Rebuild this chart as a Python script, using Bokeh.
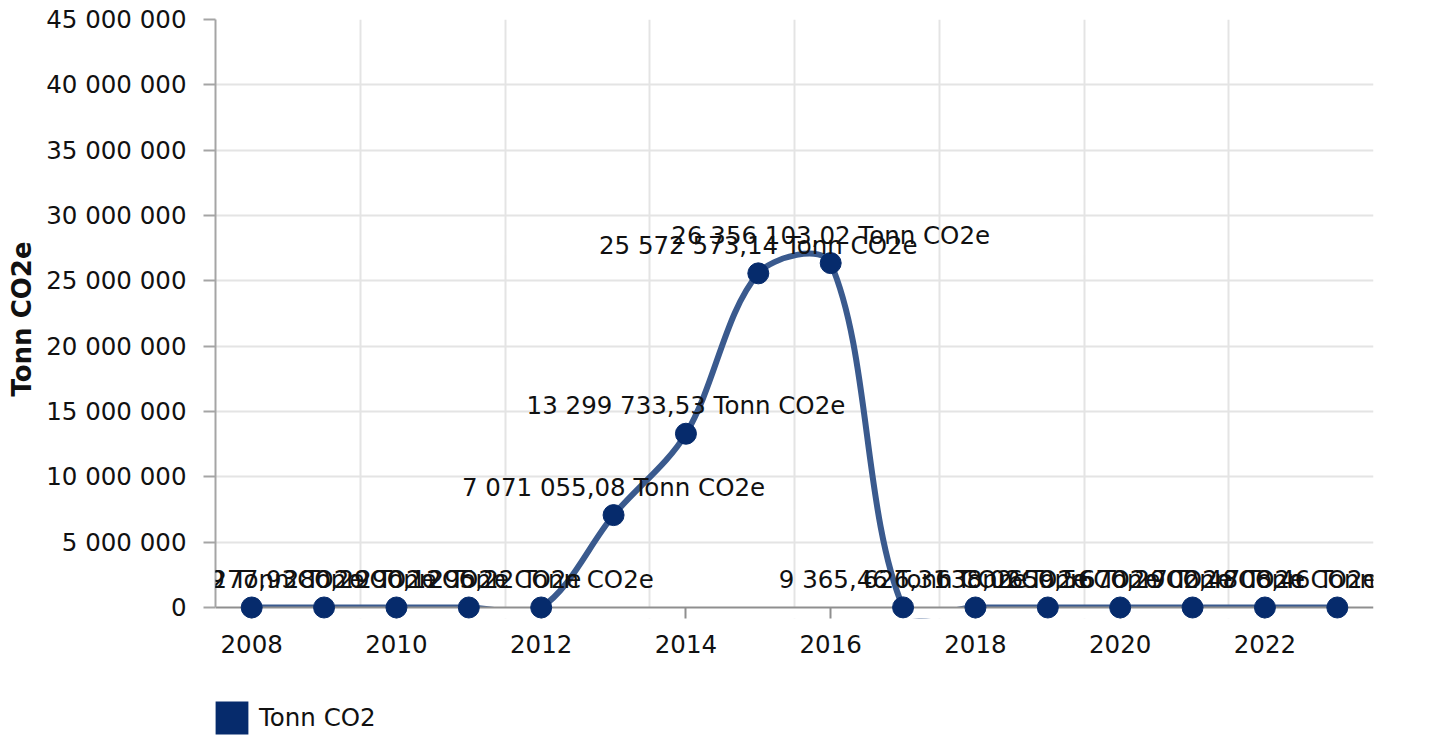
import numpy as np
from bokeh.plotting import figure
from bokeh.layouts import column
from bokeh.models import (ColumnDataSource, Range1d, FixedTicker, Legend, LegendItem,
                          Label, BoxAnnotation, Span)
from bokeh.embed import file_html
from bokeh.resources import INLINE

# ---- data ----
years = list(range(2008, 2024))
tonn = [273.99, 277.93, 280.29, 290.12, 295.22, 7071055.08, 13299733.53,
        25572573.14, 26356103.02, 9365.46, 626.31, 638.02, 659.56, 670.29,
        702.48, 708.46]
series_name = "Tonn CO2"
unit = "Tonn CO2e"
y_ticks = list(range(0, 45000001, 5000000))
x_tick_years = years[::2]

# ---- styles ----
FONT = "DejaVu Sans"
FS = "24.5px"
TXT = "#111111"
LINE_COLOR = "#3a5a8e"
MARK_COLOR = "#062b6c"
GRID_COLOR = "#e4e4e4"
AXIS_COLOR = "#8f8f8f"
TENSION = 0.33
W = 1433
FRAME_W = 1158
PLOT_H = 588          # pixels from 0 to top tick
PAD_PX = 11           # frame extends below zero so markers are not cut
MAIN_H = 690
LEG_H = 48

y_max = y_ticks[-1]
y_pad = PAD_PX * y_max / PLOT_H
x_lo, x_hi = years[0] - 0.5, years[-1] + 0.5


def fmt_no(v, dec):
    s = f"{v:,.{dec}f}"
    return s.replace(",", " ").replace(".", ",")


labels = [f"{fmt_no(v, 2)} {unit}" for v in tonn]

p = figure(frame_width=FRAME_W, frame_height=PLOT_H + PAD_PX,
           min_border_left=215, min_border_right=W - 215 - FRAME_W,
           min_border_top=19, min_border_bottom=MAIN_H - 19 - PLOT_H - PAD_PX,
           x_range=Range1d(x_lo, x_hi), y_range=Range1d(-y_pad, y_max),
           output_backend="svg", toolbar_location=None)
p.outline_line_color = None

# ---- smoothed line (spline through the data points, in screen proportions) ----
xs = np.array(years, dtype=float)
ys = np.array(tonn, dtype=float)
kx = FRAME_W / (x_hi - x_lo)
ky = PLOT_H / y_max
n = len(xs)
in_x, in_y = xs.copy(), ys.copy()
out_x, out_y = xs.copy(), ys.copy()
for i in range(1, n - 1):
    d01 = np.hypot((xs[i] - xs[i - 1]) * kx, (ys[i] - ys[i - 1]) * ky)
    d12 = np.hypot((xs[i + 1] - xs[i]) * kx, (ys[i + 1] - ys[i]) * ky)
    fa = TENSION * d01 / (d01 + d12)
    fb = TENSION * d12 / (d01 + d12)
    dx = xs[i + 1] - xs[i - 1]
    dy = ys[i + 1] - ys[i - 1]
    in_x[i], in_y[i] = xs[i] - fa * dx, ys[i] - fa * dy
    out_x[i], out_y[i] = xs[i] + fb * dx, ys[i] + fb * dy
seg = ColumnDataSource(dict(
    x0=xs[:-1], y0=ys[:-1], x1=xs[1:], y1=ys[1:],
    cx0=out_x[:-1], cy0=out_y[:-1], cx1=in_x[1:], cy1=in_y[1:],
))
p.bezier(x0="x0", y0="y0", x1="x1", y1="y1", cx0="cx0", cy0="cy0",
         cx1="cx1", cy1="cy1", source=seg, line_color=LINE_COLOR, line_width=6)

# hide the part of the curve below zero, then draw the zero axis line
p.add_layout(BoxAnnotation(top=y_ticks[0], fill_color="white", fill_alpha=1.0,
                           line_alpha=0, level="glyph"))
p.add_layout(Span(location=y_ticks[0], dimension="width", line_color=AXIS_COLOR,
                  line_width=2, level="glyph"))

src = ColumnDataSource(dict(x=years, y=tonn))
pts = p.scatter(x="x", y="y", source=src, size=21, marker="circle",
                fill_color=MARK_COLOR, line_color=MARK_COLOR)
pts.level = "overlay"

for xv, yv, lab in zip(years, tonn, labels):
    p.add_layout(Label(x=xv, y=yv, text=lab, text_align="center",
                       text_baseline="middle", y_offset=28, text_font=FONT,
                       text_font_size=FS, text_color=TXT, level="overlay"))

# ---- axes ----
xa = p.xaxis[0]
xa.ticker = FixedTicker(ticks=x_tick_years)
xa.minor_tick_line_color = None
xa.axis_line_color = None
xa.major_tick_out = 0
xa.major_tick_in = PAD_PX
xa.major_label_standoff = 16
xa.major_tick_line_color = AXIS_COLOR
xa.major_tick_line_width = 2
xa.major_label_text_font = FONT
xa.major_label_text_font_size = FS
xa.major_label_text_color = TXT

ya = p.yaxis[0]
ya.ticker = FixedTicker(ticks=y_ticks)
ya.bounds = (y_ticks[0], y_max)
ya.major_label_overrides = {t: fmt_no(t, 0) for t in y_ticks}
ya.minor_tick_line_color = None
ya.major_tick_out = 12
ya.major_tick_in = 0
ya.major_label_standoff = 17
ya.axis_line_color = "#a5a5a5"
ya.axis_line_width = 2
ya.major_tick_line_color = "#a5a5a5"
ya.major_tick_line_width = 2
ya.major_label_text_font = FONT
ya.major_label_text_font_size = FS
ya.major_label_text_color = TXT
ya.axis_label = unit
ya.axis_label_text_font = FONT
ya.axis_label_text_font_size = "26px"
ya.axis_label_text_font_style = "bold"
ya.axis_label_text_color = TXT
ya.axis_label_standoff = 6

# ---- grids ----
p.ygrid.ticker = FixedTicker(ticks=y_ticks[1:])
p.ygrid.grid_line_color = GRID_COLOR
p.ygrid.grid_line_width = 2
p.xgrid.ticker = FixedTicker(ticks=[y + 1.5 for y in x_tick_years])
p.xgrid.grid_line_color = GRID_COLOR
p.xgrid.grid_line_width = 2

# ---- legend strip ----
pl = figure(width=W, height=LEG_H, min_border_left=215, min_border_right=0,
            min_border_top=0, min_border_bottom=0,
            x_axis_location=None, y_axis_location=None,
            output_backend="svg", toolbar_location=None)
pl.outline_line_color = None
pl.grid.visible = False
leg_r = pl.quad(left=[years[0]], right=[years[0]], top=[y_ticks[0]],
                bottom=[y_ticks[0]], fill_color=MARK_COLOR, line_color=None)
legend = Legend(items=[LegendItem(label=series_name, renderers=[leg_r])],
                location=(-4, 0), orientation="horizontal",
                glyph_width=41, glyph_height=41, label_standoff=7,
                padding=0, margin=0, border_line_alpha=0,
                background_fill_alpha=0,
                label_text_font=FONT, label_text_font_size=FS,
                label_text_color=TXT)
pl.add_layout(legend)

layout = column(p, pl, spacing=0)
open("out.html", "w").write(file_html(layout, INLINE))
